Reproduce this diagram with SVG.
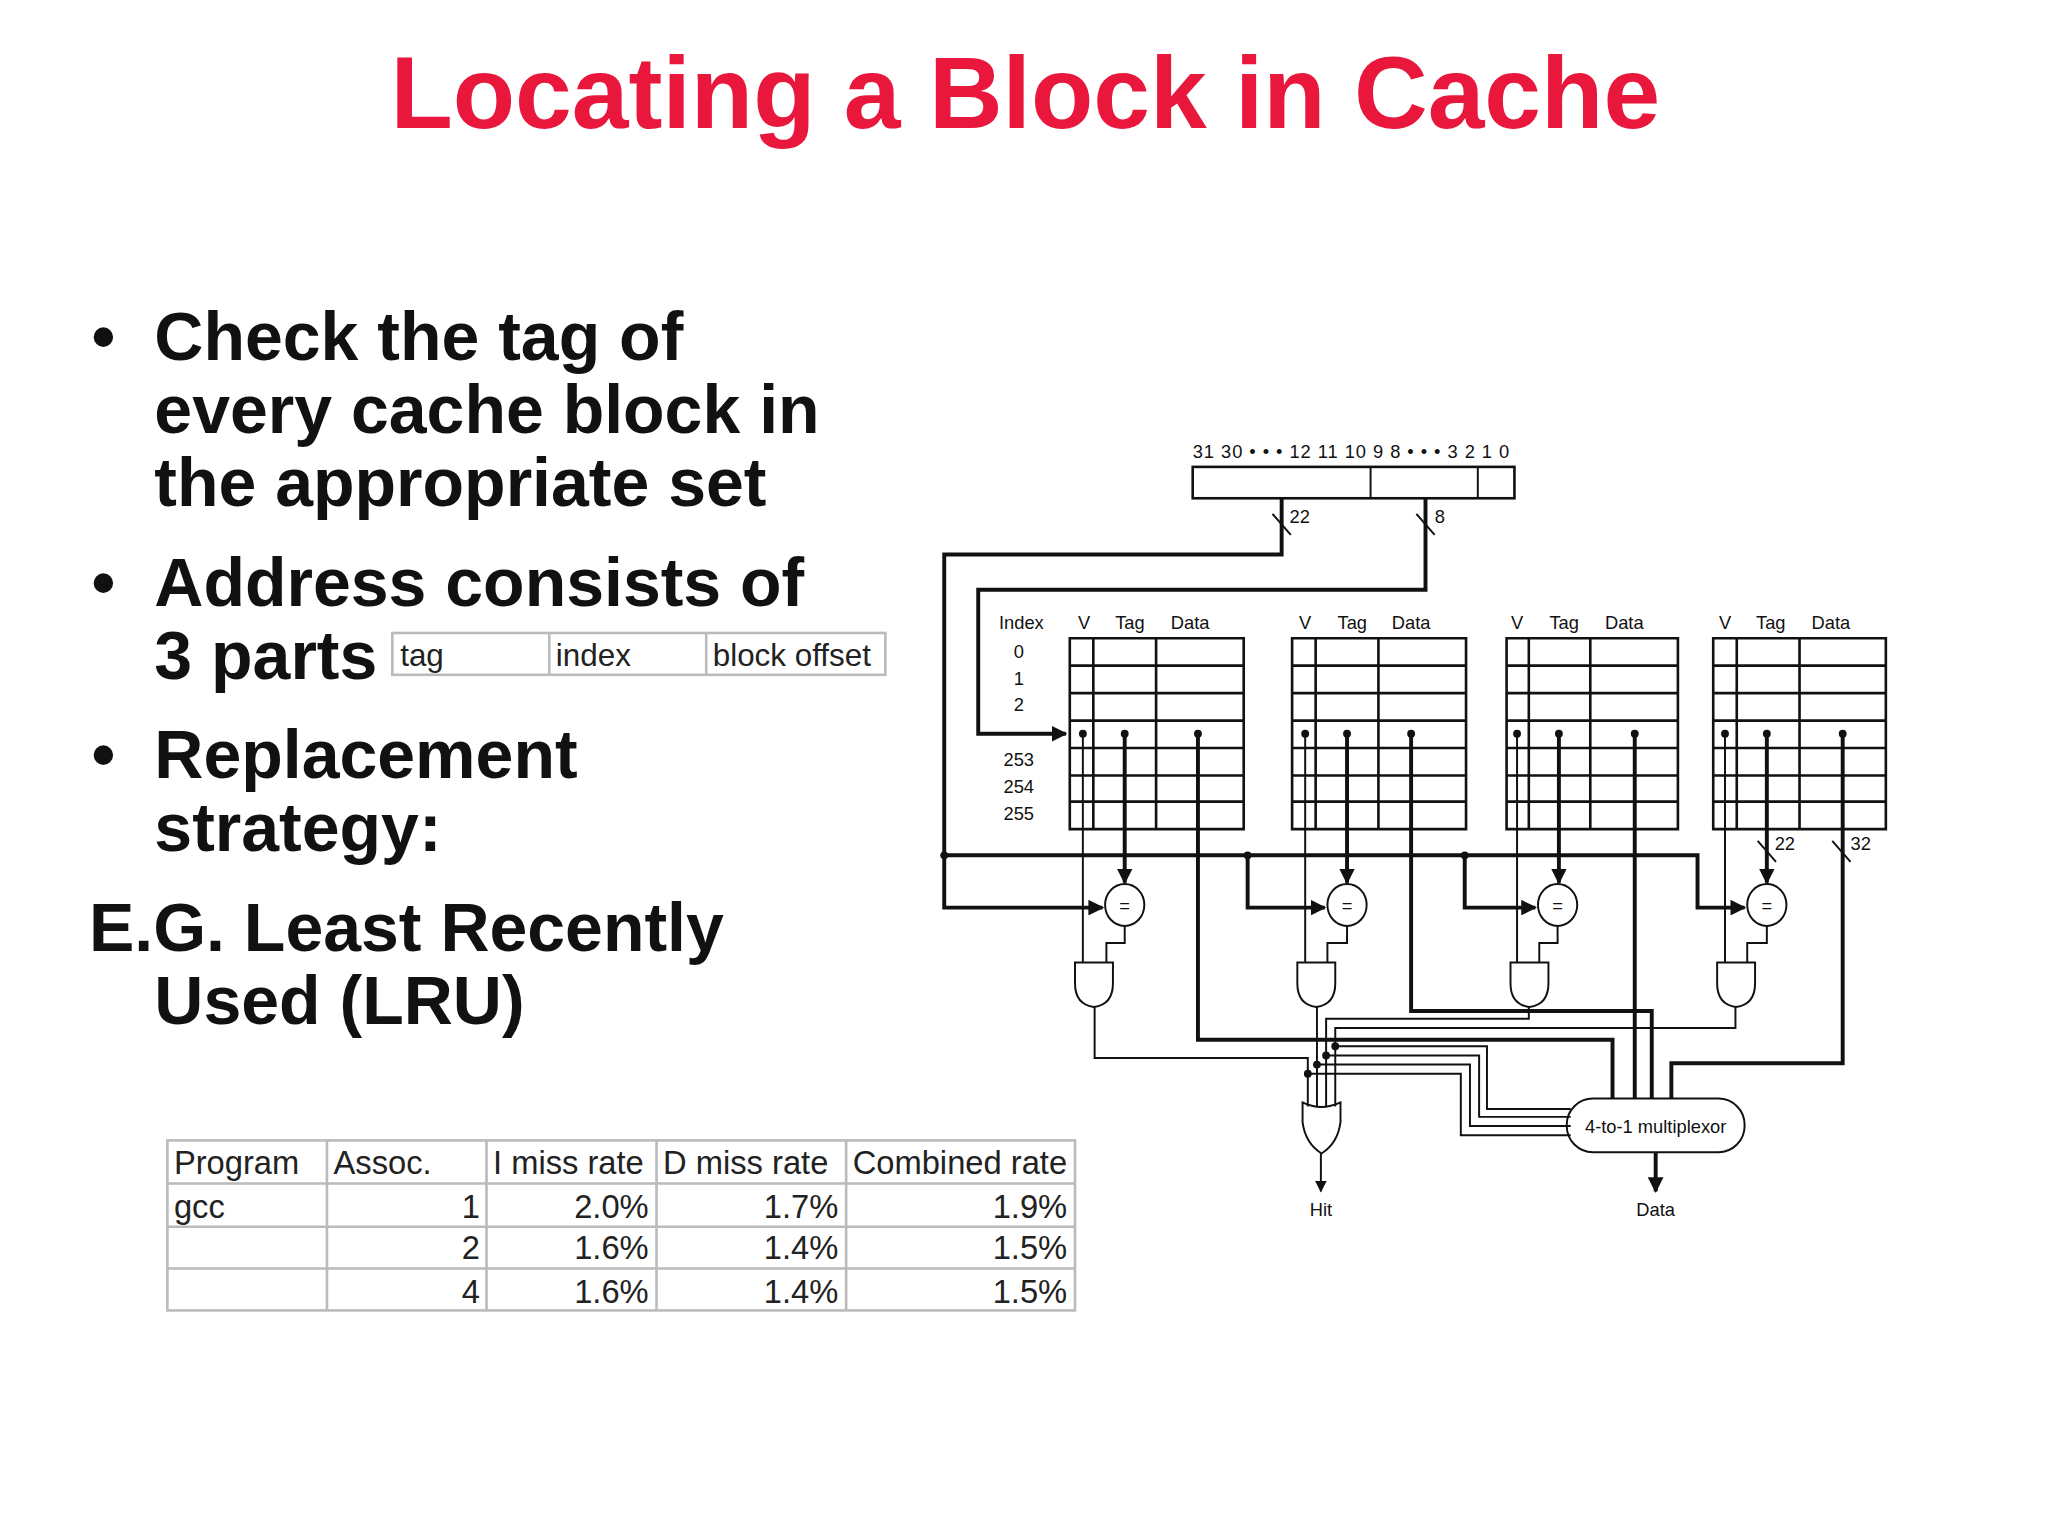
<svg xmlns="http://www.w3.org/2000/svg" width="2048" height="1536" viewBox="0 0 2048 1536">
<style>
.t{font-family:"Liberation Sans",Arial,sans-serif}
.b{font-weight:bold;font-size:52px;fill:#111}
.s{font-size:14px;fill:#111}
.tb{font-size:25px;fill:#222}
.thin{stroke:#111;stroke-width:1.5;fill:none}
.thk{stroke:#111;stroke-width:3;fill:none}
.grid{stroke:#111;stroke-width:2;fill:#fff}
.gl{stroke:#bbb;stroke-width:2;fill:none}
</style>
<defs>
<marker id="ar" viewBox="0 0 10 10" refX="9" refY="5" markerWidth="4" markerHeight="4" markerUnits="strokeWidth" orient="auto"><path d="M0,0L10,5L0,10z" fill="#111"/></marker>
<marker id="ar2" viewBox="0 0 10 10" refX="9" refY="5" markerWidth="6" markerHeight="6" markerUnits="strokeWidth" orient="auto"><path d="M0,0L10,5L0,10z" fill="#111"/></marker>
</defs>
<rect width="2048" height="1536" fill="#fff"/>
<g transform="scale(1.3078)">
<g id="title"><text class="t" x="784" y="98" text-anchor="middle" font-size="78" font-weight="bold" fill="#e8173b">Locating a Block in Cache</text></g>
<g id="bullets" class="t b">
<text x="70" y="275">•</text><text x="118" y="275">Check the tag of</text>
<text x="118" y="331">every cache block in</text>
<text x="118" y="387">the appropriate set</text>
<text x="70" y="463">•</text><text x="118" y="463">Address consists of</text>
<text x="118" y="519">3 parts</text>
<text x="70" y="595">•</text><text x="118" y="595">Replacement</text>
<text x="118" y="651">strategy:</text>
<text x="68" y="727">E.G. Least Recently</text>
<text x="118" y="783">Used (LRU)</text>
</g>
<g id="parts">
<rect class="gl" x="300" y="484" width="377" height="32"/>
<line class="gl" x1="420" y1="484" x2="420" y2="516"/><line class="gl" x1="540" y1="484" x2="540" y2="516"/>
<text class="t" x="306" y="509" font-size="24" fill="#222">tag</text>
<text class="t" x="425" y="509" font-size="24" fill="#222">index</text>
<text class="t" x="545" y="509" font-size="24" fill="#222">block offset</text>
</g>
<g id="table">
<rect class="gl" x="128" y="872" width="694" height="130"/>
<path class="gl" d="M128,905H822M128,938H822M128,970H822M250,872V1002M372,872V1002M502,872V1002M647,872V1002"/>
<g class="t tb">
<text x="133" y="898">Program</text><text x="255" y="898">Assoc.</text><text x="377" y="898">I miss rate</text><text x="507" y="898">D miss rate</text><text x="652" y="898">Combined rate</text>
<text x="133" y="931">gcc</text>
<g text-anchor="end">
<text x="367" y="931">1</text><text x="496" y="931">2.0%</text><text x="641" y="931">1.7%</text><text x="816" y="931">1.9%</text>
<text x="367" y="963">2</text><text x="496" y="963">1.6%</text><text x="641" y="963">1.4%</text><text x="816" y="963">1.5%</text>
<text x="367" y="996">4</text><text x="496" y="996">1.6%</text><text x="641" y="996">1.4%</text><text x="816" y="996">1.5%</text>
</g></g>
</g>
<g id="address">
<text class="t s" x="912" y="350" textLength="242">31 30 • • • 12 11 10 9 8 • • • 3 2 1 0</text>
<rect class="grid" x="912" y="357" width="246" height="24"/>
<line class="thin" x1="1048" y1="357" x2="1048" y2="381"/><line class="thin" x1="1130" y1="357" x2="1130" y2="381"/>
</g>
<g id="ways">
<g id="way1">
<rect x="818" y="551" width="133" height="21" fill="#d0d0d0"/>
<path class="grid" fill="none" d="M818,488H951V634H818Z M818,509H951M818,530H951M818,551H951M818,572H951M818,593H951M818,613H951M836,488V634M884,488V634"/>
</g>
<g id="way2">
<rect x="988" y="551" width="133" height="21" fill="#d0d0d0"/>
<path class="grid" fill="none" d="M988,488H1121V634H988Z M988,509H1121M988,530H1121M988,551H1121M988,572H1121M988,593H1121M988,613H1121M1006,488V634M1054,488V634"/>
</g>
<g id="way3">
<rect x="1152" y="551" width="131" height="21" fill="#d0d0d0"/>
<path class="grid" fill="none" d="M1152,488H1283V634H1152Z M1152,509H1283M1152,530H1283M1152,551H1283M1152,572H1283M1152,593H1283M1152,613H1283M1169,488V634M1216,488V634"/>
</g>
<g id="way4">
<rect x="1310" y="551" width="132" height="21" fill="#d0d0d0"/>
<path class="grid" fill="none" d="M1310,488H1442V634H1310Z M1310,509H1442M1310,530H1442M1310,551H1442M1310,572H1442M1310,593H1442M1310,613H1442M1328,488V634M1376,488V634"/>
</g>
<g class="t s" text-anchor="middle">
<text x="781" y="481">Index</text>
<text x="779" y="503">0</text><text x="779" y="524">1</text><text x="779" y="544">2</text>
<text x="779" y="586">253</text><text x="779" y="606">254</text><text x="779" y="627">255</text>
<text x="829" y="481">V</text><text x="864" y="481">Tag</text><text x="910" y="481">Data</text>
<text x="998" y="481">V</text><text x="1034" y="481">Tag</text><text x="1079" y="481">Data</text>
<text x="1160" y="481">V</text><text x="1196" y="481">Tag</text><text x="1242" y="481">Data</text>
<text x="1319" y="481">V</text><text x="1354" y="481">Tag</text><text x="1400" y="481">Data</text>
</g>
</g>
<g id="comparators">
<g fill="#fff" stroke="#111" stroke-width="1.5">
<ellipse cx="860" cy="692" rx="15" ry="16"/><ellipse cx="1030" cy="692" rx="15" ry="16"/><ellipse cx="1191" cy="692" rx="15" ry="16"/><ellipse cx="1351" cy="692" rx="15" ry="16"/>
</g>
<g class="t s" text-anchor="middle"><text x="860" y="697">=</text><text x="1030" y="697">=</text><text x="1191" y="697">=</text><text x="1351" y="697">=</text></g>
</g>
<g id="gates" fill="#fff" stroke="#111" stroke-width="1.5">
<path d="M822,736H851V752Q851,768 836.5,770Q822,768 822,752Z"/>
<path d="M992,736H1021V752Q1021,768 1006.5,770Q992,768 992,752Z"/>
<path d="M1155,736H1184V752Q1184,768 1169.5,770Q1155,768 1155,752Z"/>
<path d="M1313,736H1342V752Q1342,768 1327.5,770Q1313,768 1313,752Z"/>
<path d="M996,843Q1010,850 1025,843V858Q1023,874 1010.5,882Q998,874 996,858Z"/>
</g>
<g id="mux">
<rect x="1198" y="840" width="136" height="41" rx="20" fill="#fff" stroke="#111" stroke-width="1.5"/>
<text class="t" x="1266" y="866" text-anchor="middle" font-size="14" fill="#111">4-to-1 multiplexor</text>
</g>
<g id="connectors">
<path class="thk" d="M980,381V424H722V694H843" marker-end="url(#ar)"/>
<path class="thk" d="M1090,381V451H748V561H815" marker-end="url(#ar)"/>
<path class="thk" d="M722,654H1298V694H1334" marker-end="url(#ar)"/>
<path class="thk" d="M954,654V694H1013" marker-end="url(#ar)"/>
<path class="thk" d="M1120,654V694H1174" marker-end="url(#ar)"/>
<path class="thk" d="M860,561V675" marker-end="url(#ar)"/>
<path class="thk" d="M1030,561V675" marker-end="url(#ar)"/>
<path class="thk" d="M1192,561V675" marker-end="url(#ar)"/>
<path class="thk" d="M1351,561V675" marker-end="url(#ar)"/>
<path class="thin" d="M828,561V736M998,561V736M1160,561V736M1319,561V736"/>
<path class="thin" d="M860,708V721H846V736M1030,708V721H1015V736M1191,708V721H1177V736M1351,708V721H1336V736"/>
<path class="thk" d="M916,561V795H1233V840"/>
<path class="thk" d="M1079,561V773H1263V840"/>
<path class="thk" d="M1250,561V840"/>
<path class="thk" d="M1409,561V813H1278V840"/>
<path class="thin" d="M837,770V809H1000V846"/>
<path class="thin" d="M1007,770V846"/>
<path class="thin" d="M1169,770V779H1014V846"/>
<path class="thin" d="M1327,770V786H1021V846"/>
<path class="thin" d="M1021,800H1137V848H1201M1014,807H1131V854H1201M1007,814H1124V861H1201M1000,821H1117V868H1201"/>
<path class="thin" d="M1010,882V911" marker-end="url(#ar2)"/>
<path class="thk" d="M1266,881V911" marker-end="url(#ar)"/>
<path class="thin" d="M973,393L987,409M1083,393L1097,409M1344,643L1358,659M1401,643L1415,659"/>
<g fill="#111"><circle cx="722" cy="654" r="3"/><circle cx="954" cy="654" r="3"/><circle cx="1120" cy="654" r="3"/>
<circle cx="828" cy="561" r="3"/><circle cx="860" cy="561" r="3"/><circle cx="916" cy="561" r="3"/>
<circle cx="998" cy="561" r="3"/><circle cx="1030" cy="561" r="3"/><circle cx="1079" cy="561" r="3"/>
<circle cx="1160" cy="561" r="3"/><circle cx="1192" cy="561" r="3"/><circle cx="1250" cy="561" r="3"/>
<circle cx="1319" cy="561" r="3"/><circle cx="1351" cy="561" r="3"/><circle cx="1409" cy="561" r="3"/>
<circle cx="1021" cy="800" r="3"/><circle cx="1014" cy="807" r="3"/><circle cx="1007" cy="814" r="3"/><circle cx="1000" cy="821" r="3"/></g>
<g class="t s"><text x="986" y="400">22</text><text x="1097" y="400">8</text><text x="1357" y="650">22</text><text x="1415" y="650">32</text>
<text x="1010" y="930" text-anchor="middle">Hit</text><text x="1266" y="930" text-anchor="middle">Data</text></g>
</g>
</g>
</svg>
